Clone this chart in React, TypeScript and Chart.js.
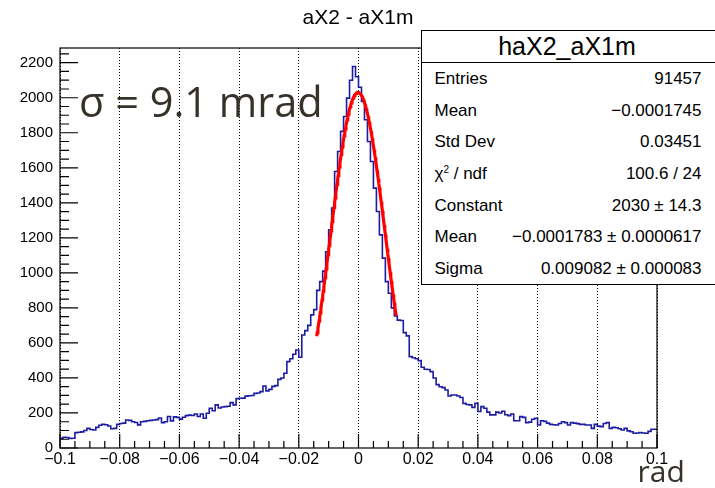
import React, { useEffect, useRef } from 'react';
import { Chart, registerables } from 'chart.js';

Chart.register(...registerables);

// histogram binning: 200 bins from -0.1 to 0.1 rad
const binLow = -0.1;
const binWidth = 0.001;

// bin contents (left to right)
const counts: number[] = [
  51, 55, 61, 60, 55, 56, 88, 90, 92, 100,
  112, 106, 103, 118, 130, 135, 133, 126, 110, 112,
  135, 140, 142, 160, 158, 150, 146, 132, 150, 152,
  156, 158, 160, 162, 171, 145, 150, 180, 155, 178,
  175, 165, 176, 185, 188, 186, 194, 180, 194, 170,
  198, 227, 213, 246, 228, 234, 236, 238, 259, 246,
  282, 284, 285, 296, 298, 300, 312, 314, 322, 354,
  326, 335, 352, 356, 392, 400, 427, 493, 510, 535,
  560, 518, 645, 670, 700, 760, 790, 900, 950, 1010,
  1120, 1246, 1370, 1579, 1693, 1808, 1893, 1998, 2100, 2178,
  2120, 2060, 1979, 1874, 1750, 1636, 1484, 1350, 1217, 1084,
  950, 884, 800, 754, 730, 728, 659, 640, 522, 515,
  510, 499, 461, 450, 448, 436, 400, 362, 350, 345,
  331, 297, 303, 303, 297, 288, 255, 248, 246, 232,
  255, 208, 236, 227, 205, 189, 189, 205, 200, 210,
  190, 185, 194, 156, 156, 179, 175, 145, 148, 164,
  170, 131, 156, 152, 142, 135, 133, 131, 140, 150,
  145, 131, 145, 142, 139, 135, 135, 131, 131, 112,
  135, 125, 122, 140, 145, 112, 118, 116, 110, 103,
  112, 98, 93, 84, 86, 88, 86, 84, 95, 107,
];

// gaussian fit (values from the stats box) and the range it was drawn over
const fitConstant = 2030;
const fitMean = -0.0001783;
const fitSigma = 0.009082;
const fitFrom = -0.014;
const fitTo = 0.0126;

// axes
const xTickValues = [-0.1, -0.08, -0.06, -0.04, -0.02, 0, 0.02, 0.04, 0.06, 0.08, 0.1];
const xTickLabels = ['\u22120.1', '\u22120.08', '\u22120.06', '\u22120.04', '\u22120.02', '0', '0.02', '0.04', '0.06', '0.08', '0.1'];
const yTickValues = [0, 200, 400, 600, 800, 1000, 1200, 1400, 1600, 1800, 2000, 2200];
const yTickLabels = ['0', '200', '400', '600', '800', '1000', '1200', '1400', '1600', '1800', '2000', '2200'];
const yMax = 2284;

const statsTitle = 'haX2_aX1m';
const statsLabels = ['Entries', 'Mean', 'Std Dev', 'chi2', 'Constant', 'Mean', 'Sigma'];
const statsValues = [
  '91457',
  '\u22120.0001745',
  '0.03451',
  '100.6 / 24',
  '2030 \u00b1 14.3',
  '\u22120.0001783 \u00b1 0.0000617',
  '0.009082 \u00b1 0.000083',
];

const rootFont = '"Liberation Sans", Arial, Helvetica, sans-serif';
const slideFont = '"Open Sans", "Noto Sans", sans-serif';
const slideInk = '#36322a';

// ROOT style frame with ticks pointing into the pad
const rootFrame = {
  id: 'rootFrame',
  afterDraw(chart: any) {
    const { ctx, chartArea: a, scales } = chart;
    const xs = scales.x;
    const ys = scales.y;
    ctx.save();
    ctx.strokeStyle = '#000';
    ctx.lineWidth = 1.2;
    ctx.strokeRect(a.left, a.top, a.right - a.left, a.bottom - a.top);
    ctx.beginPath();
    for (let k = 0; k <= 40; k++) {
      const v = xs.min + k * 0.005;
      const px = xs.getPixelForValue(v);
      const len = k % 4 === 0 ? 14 : 7;
      ctx.moveTo(px, a.bottom);
      ctx.lineTo(px, a.bottom - len);
    }
    for (let v = 0; v <= ys.max; v += 50) {
      const py = ys.getPixelForValue(v);
      const len = v % 200 === 0 ? 18 : 9;
      ctx.moveTo(a.left, py);
      ctx.lineTo(a.left + len, py);
    }
    ctx.stroke();
    ctx.restore();
  },
};

export default function App() {
  const canvasRef = useRef<HTMLCanvasElement | null>(null);

  useEffect(() => {
    if (!canvasRef.current) return;

    const histPoints = counts.map((c, i) => ({ x: binLow + i * binWidth, y: c }));
    histPoints.push({ x: binLow + counts.length * binWidth, y: counts[counts.length - 1] });

    const fitPoints: { x: number; y: number }[] = [];
    for (let x = fitFrom; x <= fitTo + 1e-9; x += 0.0002) {
      const z = (x - fitMean) / fitSigma;
      fitPoints.push({ x, y: fitConstant * Math.exp(-0.5 * z * z) });
    }

    const chart = new Chart(canvasRef.current, {
      type: 'line',
      data: {
        datasets: [
          {
            data: histPoints,
            stepped: 'after',
            borderColor: '#1c1ca0',
            borderWidth: 1.6,
            pointRadius: 0,
            fill: false,
            order: 2,
          },
          {
            data: fitPoints,
            borderColor: '#ff0000',
            borderWidth: 3.2,
            pointRadius: 0,
            fill: false,
            tension: 0,
            order: 1,
          },
        ],
      },
      options: {
        animation: false,
        responsive: false,
        maintainAspectRatio: false,
        layout: { padding: { top: 48, left: 0, right: 58, bottom: 0 } },
        plugins: {
          legend: { display: false },
          tooltip: { enabled: false },
        },
        scales: {
          x: {
            type: 'linear',
            min: -0.1,
            max: 0.1,
            afterBuildTicks: (s: any) => {
              s.ticks = xTickValues.map((v) => ({ value: v }));
            },
            afterFit: (s: any) => {
              s.height = 40;
            },
            ticks: {
              callback: (_v: any, i: number) => xTickLabels[i],
              color: '#000',
              font: { family: rootFont, size: 16 },
              padding: 2,
              maxRotation: 0,
              autoSkip: false,
            },
            grid: { color: '#000', lineWidth: 1, drawTicks: false },
            border: { display: false, dash: [1, 2] },
          },
          y: {
            type: 'linear',
            min: 0,
            max: yMax,
            afterBuildTicks: (s: any) => {
              s.ticks = yTickValues.map((v) => ({ value: v }));
            },
            afterFit: (s: any) => {
              s.width = 60;
            },
            ticks: {
              callback: (_v: any, i: number) => yTickLabels[i],
              color: '#000',
              font: { family: rootFont, size: 15 },
              padding: 7,
              autoSkip: false,
            },
            grid: { display: false, drawTicks: false },
            border: { display: false },
          },
        },
      },
      plugins: [rootFrame],
    } as any);

    return () => {
      chart.destroy();
    };
  }, []);

  return (
    <div style={{ position: 'absolute', left: 0, top: 0, width: 715, height: 488, overflow: 'hidden', background: '#fff' }}>
      <canvas ref={canvasRef} width={715} height={488} style={{ display: 'block' }}></canvas>

      {/* histogram title */}
      <div
        style={{
          position: 'absolute', left: 208, top: 6.2, width: 300, textAlign: 'center',
          fontFamily: rootFont, fontSize: 21, lineHeight: '21px', color: '#000',
        }}
      >
        aX2 - aX1m
      </div>

      {/* stats box */}
      <div
        style={{
          position: 'absolute', left: 421, top: 30, width: 310, height: 255, boxSizing: 'border-box',
          border: '1.5px solid #000', background: '#fff', fontFamily: rootFont, color: '#000',
        }}
      >
        <div style={{ height: 31, borderBottom: '1.5px solid #000' }}>
          <div style={{ width: 290, textAlign: 'center', fontSize: 25, lineHeight: '31px' }}>{statsTitle}</div>
        </div>
        {statsLabels.map((label, i) => (
          <div
            key={i}
            style={{
              display: 'flex', justifyContent: 'space-between', height: 31.7, lineHeight: '31.7px',
              fontSize: 17, paddingLeft: 12.5, paddingRight: 28.5, whiteSpace: 'nowrap', overflow: 'hidden',
            }}
          >
            <span>
              {label === 'chi2' ? (
                <>
                  {'\u03c7'}
                  <span style={{ fontSize: 10, position: 'relative', top: -6, lineHeight: 0 }}>2</span>
                  {' / ndf'}
                </>
              ) : (
                label
              )}
            </span>
            <span>{statsValues[i]}</span>
          </div>
        ))}
      </div>

      {/* slide annotations */}
      <div
        style={{
          position: 'absolute', left: 79, top: 80.6, fontFamily: slideFont, fontSize: 41.5,
          lineHeight: '41.5px', color: slideInk, whiteSpace: 'nowrap',
        }}
      >
        {'\u03c3 = 9.1 mrad'}
      </div>
      <div
        style={{
          position: 'absolute', left: 637.5, top: 456.4, fontFamily: slideFont, fontSize: 30,
          lineHeight: '30px', color: slideInk, whiteSpace: 'nowrap',
        }}
      >
        rad
      </div>
    </div>
  );
}
